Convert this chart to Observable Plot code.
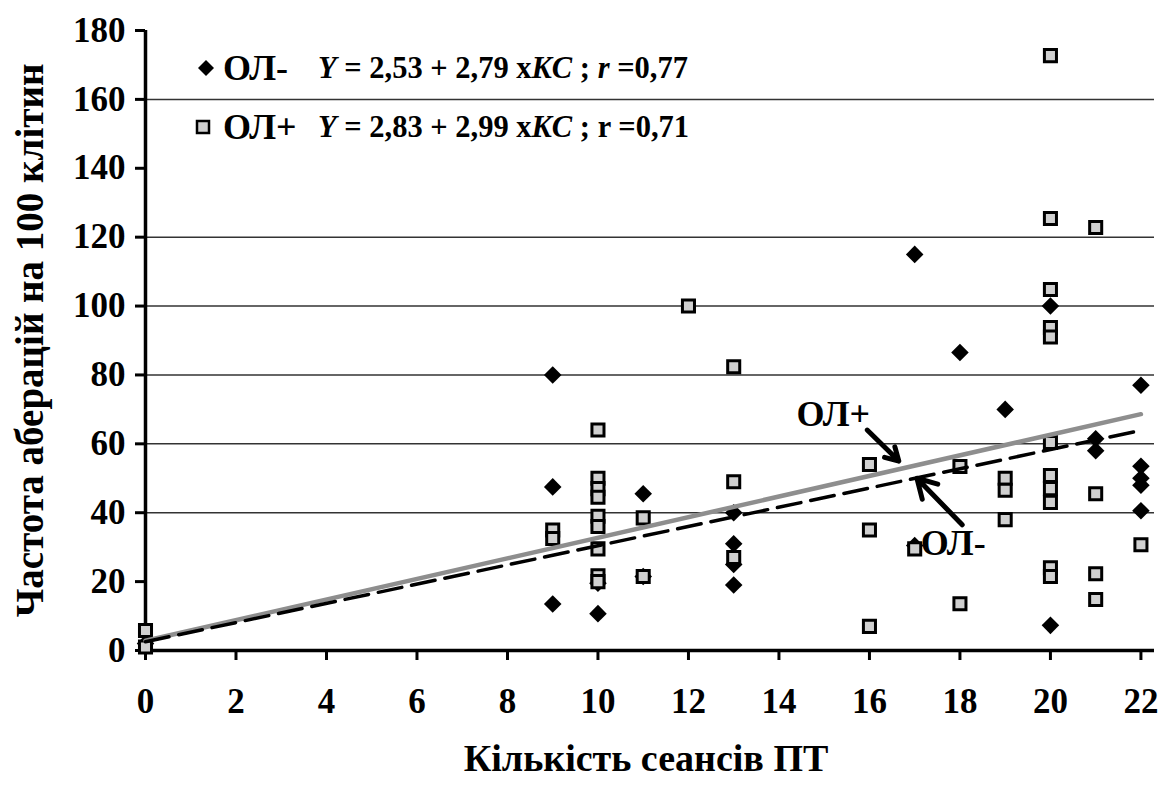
<!DOCTYPE html>
<html><head><meta charset="utf-8">
<script src="https://cdn.jsdelivr.net/npm/d3@7"></script>
<script src="https://cdn.jsdelivr.net/npm/@observablehq/plot@0.6"></script>
<style>body{margin:0;background:#fff}</style>
</head><body><div id="chart"></div>
<script>
// ---- data ----
const xTicks = [0,2,4,6,8,10,12,14,16,18,20,22];
const yTicks = [0,20,40,60,80,100,120,140,160,180];
const gridValues = [40,60,80,100,120,160];

// ОЛ- (diamonds)
const minusX = [0, 9, 9, 9, 10, 10, 11, 11, 13, 13, 13, 13, 17, 17, 18, 19, 20, 20, 21, 21, 22, 22, 22, 22, 22];
const minusY = [2, 80, 47.5, 13.5, 10.7, 19.5, 45.5, 21.5, 40, 31, 25, 19, 115, 30.5, 86.5, 70, 100, 7.3, 61.5, 58, 77, 53.5, 50, 48, 40.6];

// ОЛ+ (squares)
const plusX = [0, 0, 9, 9, 10, 10, 10, 10, 10, 10, 10, 10, 10, 11, 11, 12, 13, 13, 13, 16, 16, 16, 17, 18, 18, 19, 19, 19, 20, 20, 20, 20, 20, 20, 20, 20, 20, 20, 20, 21, 21, 21, 21, 22];
const plusY = [5.8, 1, 35, 32.5, 64, 50, 47, 44.5, 39, 36, 29.5, 21.7, 20, 38.5, 21.5, 100, 82.4, 49, 27, 54, 35, 7, 29.5, 53.4, 13.6, 50, 46.5, 38, 172.7, 125.4, 104.8, 93.8, 91, 60.4, 50.8, 47, 43, 24, 21.5, 122.8, 45.5, 22.3, 14.8, 30.7];

// regression equations from the legend
const minusIntercept = 2.53, minusSlope = 2.79;
const plusIntercept = 2.83, plusSlope = 2.99;
const lineXs = [0, 22];

const xTitle = "Кількість сеансів ПТ";
const yTitle = "Частота аберацій на 100 клітин";

// annotations
const annotLabels = [
  {x: 15.2, y: 68.5, text: "ОЛ+"},
  {x: 17.85, y: 31, text: "ОЛ-"}
];
const annotArrows = [
  {x1: 15.95, y1: 64, x2: 16.65, y2: 55},
  {x1: 18.05, y1: 36.5, x2: 17.05, y2: 50}
];

// ---- build ----
const minus = minusX.map((x, i) => ({x, y: minusY[i]}));
const plus = plusX.map((x, i) => ({x, y: plusY[i]}));
const lineMinus = lineXs.map(x => ({x, y: minusIntercept + minusSlope * x}));
const linePlus = lineXs.map(x => ({x, y: plusIntercept + plusSlope * x}));

const font = "'Liberation Serif', 'Times New Roman', serif";

const plot = Plot.plot({
  width: 1159, height: 785,
  marginLeft: 145, marginRight: 5, marginTop: 30, marginBottom: 135,
  x: {domain: [0, 22.3]},
  y: {domain: [0, 180]},
  style: {fontFamily: font, fontWeight: "bold", fontSize: "35px", color: "#000", background: "#fff"},
  marks: [
    Plot.ruleY(gridValues, {stroke: "#333", strokeWidth: 1.5}),
    Plot.axisX({ticks: xTicks, tickSize: 10, strokeWidth: 3, tickPadding: 28, tickFormat: d => String(d), label: null}),
    Plot.axisY({ticks: yTicks, tickSize: 10, strokeWidth: 3, tickPadding: 10, tickFormat: d => String(d), label: null}),
    Plot.ruleX([0], {stroke: "black", strokeWidth: 3.5}),
    Plot.ruleY([0], {stroke: "black", strokeWidth: 3.5}),
    Plot.dot(minus, {x: "x", y: "y", symbol: "square", rotate: 45, r: 7, fill: "black"}),
    Plot.dot(plus, {x: "x", y: "y", symbol: "square", r: 6.8, fill: "#d0d0d0", stroke: "black", strokeWidth: 3}),
    Plot.line(linePlus, {x: "x", y: "y", stroke: "#8e8e8e", strokeWidth: 4.5}),
    Plot.line(lineMinus, {x: "x", y: "y", stroke: "black", strokeWidth: 3.5, strokeDasharray: "24,10"}),
    Plot.arrow(annotArrows, {x1: "x1", y1: "y1", x2: "x2", y2: "y2", stroke: "black", strokeWidth: 5, headLength: 20}),
    Plot.text(annotLabels, {x: "x", y: "y", text: "text", fontSize: 36, fontWeight: "bold"}),
    Plot.text([xTitle], {frameAnchor: "bottom", textAnchor: "middle", dy: 120, dx: -4, text: d => d, fontSize: 38, fontWeight: "bold"}),
    Plot.text([yTitle], {frameAnchor: "left", textAnchor: "middle", dx: -115, rotate: -90, text: d => d, fontSize: 39, fontWeight: "bold"})
  ]
});
document.getElementById("chart").appendChild(plot);

// ---- legend (inside plot area, top left) ----
const svg = d3.select(plot);
const lg = svg.append("g").attr("font-family", font).attr("font-weight", "bold").attr("fill", "black").attr("text-anchor", "start");
const rows = [
  {label: "ОЛ-", a: "2,53", b: "2,79", rSym: "r", rItalic: true, r: "0,77", y: 68, marker: "diamond"},
  {label: "ОЛ+", a: "2,83", b: "2,99", rSym: "r", rItalic: false, r: "0,71", y: 127, marker: "square"}
];
rows.forEach(row => {
  if (row.marker === "diamond") {
    lg.append("path").attr("d", `M206,${row.y-8}L214,${row.y}L206,${row.y+8}L198,${row.y}Z`).attr("fill", "black");
  } else {
    lg.append("rect").attr("x", 197).attr("y", row.y - 6).attr("width", 12).attr("height", 12)
      .attr("fill", "#d0d0d0").attr("stroke", "black").attr("stroke-width", 2.5);
  }
  lg.append("text").attr("x", 223).attr("y", row.y + 12).attr("font-size", 36).attr("text-anchor", "start").text(row.label);
  const t = lg.append("text").attr("x", 318).attr("y", row.y + 10).attr("font-size", 30.5).attr("text-anchor", "start");
  t.append("tspan").attr("font-style", "italic").text("Y");
  t.append("tspan").text(` = ${row.a} + ${row.b} x`);
  t.append("tspan").attr("font-style", "italic").text("KC");
  t.append("tspan").text(" ; ");
  t.append("tspan").attr("font-style", row.rItalic ? "italic" : "normal").text(row.rSym);
  t.append("tspan").text(" =" + row.r);
});
</script>
</body></html>
